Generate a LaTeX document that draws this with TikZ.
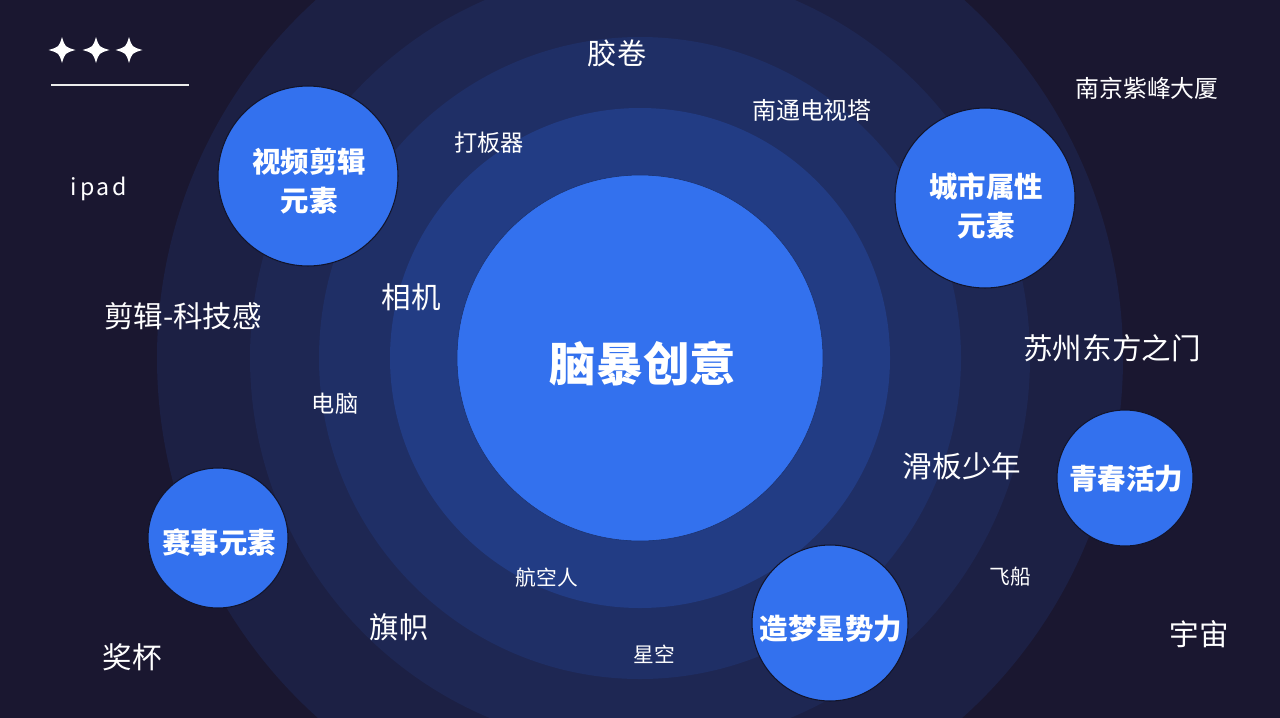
\documentclass[tikz,border=0pt]{standalone}
\usepackage{fontspec}
\setmainfont{Noto Sans CJK SC}
\usepackage{tikz}

\definecolor{bgnavy}{HTML}{1A1730}
\definecolor{ringa}{HTML}{1C2044}
\definecolor{ringb}{HTML}{1E2753}
\definecolor{ringc}{HTML}{1F2F66}
\definecolor{ringd}{HTML}{223C84}
\definecolor{coreblue}{HTML}{3371EE}
\definecolor{rimdark}{HTML}{12142A}

\begin{document}
\begin{tikzpicture}[x=0.02cm,y=-0.02cm,
    topic/.style={circle,fill=coreblue,draw=rimdark,line width=0.6pt,inner sep=0pt},
    topictext/.style={align=center,text=white,inner sep=0pt,
                      font=\bfseries\fontsize{16.2}{22.5}\selectfont},
    word/.style={text=white,inner sep=0pt,font=\fontsize{#1pt}{#1pt}\selectfont}]
  \useasboundingbox (0,0) rectangle (1280,717);
  \clip (0,0) rectangle (1280,717);
  \fill[bgnavy] (-5,-5) rectangle (1285,722);

  % rings
  \foreach \r/\c in {483/ringa,390/ringb,321/ringc,250/ringd}
    \fill[\c] (640,358) circle (\r);
  \node[topic,draw=ringd!80!black,line width=0.3pt,minimum size=7.32cm] (core) at (640,358) {};
  \node[topictext,font=\bfseries\fontsize{26.5}{26.5}\selectfont] (coreT) at (643,364) {脑暴创意};

  % topic circles
  \node[topic,minimum size=3.6cm]  (video)  at (308,176)  {};
  \node[topic,minimum size=3.6cm]  (city)   at (985,198)  {};
  \node[topic,minimum size=2.72cm] (youth)  at (1125,478) {};
  \node[topic,minimum size=2.8cm]  (race)   at (218,538)  {};
  \node[topic,minimum size=3.12cm] (dream)  at (830,623)  {};
  \node[topictext] (videoT) at (309,181)  {视频剪辑\\元素};
  \node[topictext] (cityT)  at (986,206)  {城市属性\\元素};
  \node[topictext] (youthT) at (1126,479) {青春活力};
  \node[topictext] (raceT)  at (219,542)  {赛事元素};
  \node[topictext] (dreamT) at (831,629)  {造梦星势力};

  % words
  \node[word=16.6] (film)    at (617,53)   {胶卷};
  \node[word=13.6] (tower)   at (812,110)  {南通电视塔};
  \node[word=13.6] (zifeng)  at (1147,88)  {南京紫峰大厦};
  \node[word=13.2] (clapper) at (489,143)  {打板器};
  \node[word=13.2,font=\fontsize{13.2pt}{13.2pt}\selectfont\addfontfeatures{LetterSpace=12}] (ipad) at (99,189) {ipad};
  \node[word=16.8] (techcut) at (183,316)  {剪辑-科技感};
  \node[word=16.8] (camera)  at (411,297)  {相机};
  \node[word=16.8] (gate)    at (1112,348) {苏州东方之门};
  \node[word=13.2] (pc)      at (335,404)  {电脑};
  \node[word=16.8] (skater)  at (962,466)  {滑板少年};
  \node[word=11.8] (pilot)   at (547,578)  {航空人};
  \node[word=11.8] (ship)    at (1010,577) {飞船};
  \node[word=16.8] (flag)    at (399,627)  {旗帜};
  \node[word=11.8] (stars)   at (654,654)  {星空};
  \node[word=16.8] (cup)     at (132,657)  {奖杯};
  \node[word=16.8] (cosmos)  at (1199,634) {宇宙};

  % sparkles and rule
  \foreach \sx in {62,96,129}
    \fill[white,shift={(\sx,50)}] (0,-13) .. controls (3,-3) .. (13.5,0)
      .. controls (3,3) .. (0,13) .. controls (-3,3) .. (-13.5,0)
      .. controls (-3,-3) .. cycle;
  \coordinate (ruleL) at (51,85);
  \coordinate (ruleR) at (189,85);
  \draw[white!85!gray,line width=1.1pt] (ruleL) -- (ruleR);
\end{tikzpicture}
\end{document}
